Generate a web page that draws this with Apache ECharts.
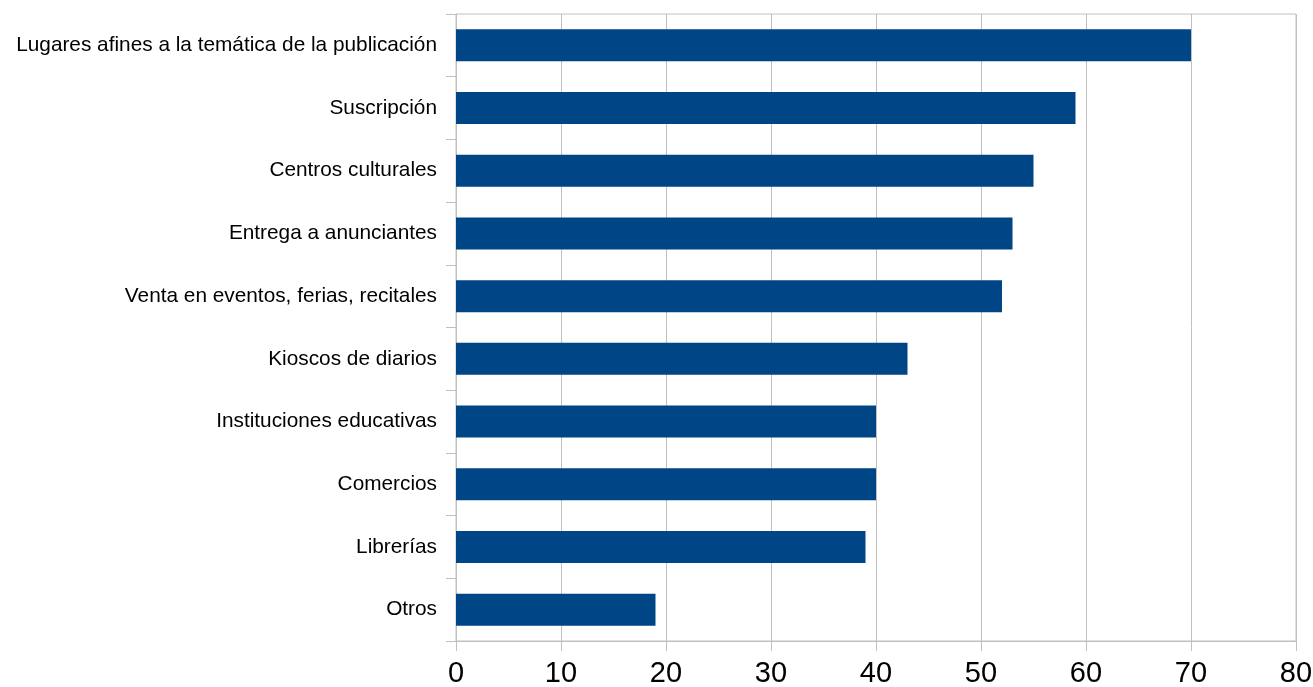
<!DOCTYPE html>
<html>
<head>
<meta charset="utf-8">
<script src="https://cdn.jsdelivr.net/npm/echarts@6/dist/echarts.min.js"></script>
<style>
  html, body { margin: 0; padding: 0; background: #ffffff; }
  #chart { width: 1313px; height: 687px; }
</style>
</head>
<body>
<div id="chart"></div>
<script>
// Distribution channels, listed bottom to top as drawn on the category axis
const categories = [
  'Otros',
  'Librerías',
  'Comercios',
  'Instituciones educativas',
  'Kioscos de diarios',
  'Venta en eventos, ferias, recitales',
  'Entrega a anunciantes',
  'Centros culturales',
  'Suscripción',
  'Lugares afines a la temática de la publicación'
];
const values = [19, 39, 40, 40, 43, 52, 53, 55, 59, 70];
const xTicks = { min: 0, max: 80, interval: 10 };

const gridColor = '#c0c0c0';
const font = 'Liberation Sans, Arial, sans-serif';

const chart = echarts.init(document.getElementById('chart'), null, { renderer: 'canvas' });
chart.setOption({
  animation: false,
  backgroundColor: '#ffffff',
  grid: {
    left: 456, top: 14, right: 17, bottom: 46,
    containLabel: false, outerBoundsMode: 'none',
    show: true, borderColor: gridColor, borderWidth: 1, backgroundColor: 'transparent'
  },
  xAxis: {
    type: 'value',
    min: xTicks.min, max: xTicks.max, interval: xTicks.interval,
    axisLine: { show: true, lineStyle: { color: gridColor, width: 1 } },
    axisTick: { show: true, length: 10, lineStyle: { color: gridColor, width: 1 } },
    splitLine: { show: true, lineStyle: { color: gridColor, width: 1 } },
    axisLabel: { color: '#000000', fontFamily: font, fontSize: 29, margin: 18, hideOverlap: false }
  },
  yAxis: {
    type: 'category',
    data: categories,
    axisLine: { show: true, lineStyle: { color: gridColor, width: 1 } },
    axisTick: { show: true, length: 10, alignWithLabel: false, lineStyle: { color: gridColor, width: 1 } },
    splitLine: { show: false },
    axisLabel: { color: '#000000', fontFamily: font, fontSize: 20.8, margin: 19 }
  },
  series: [{
    type: 'bar',
    data: values,
    barWidth: 32,
    itemStyle: { color: '#004586' }
  }]
});
</script>
</body>
</html>
